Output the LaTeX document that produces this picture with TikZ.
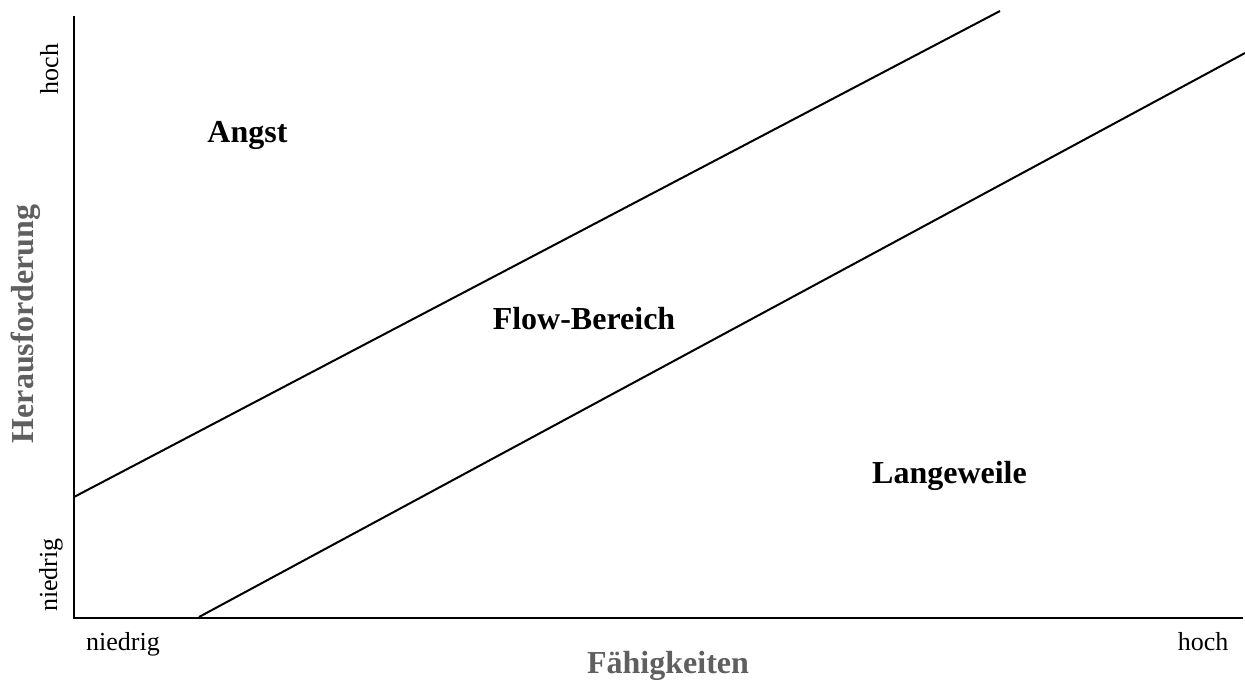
\documentclass[tikz,border=0pt]{standalone}
\usepackage{fontspec}
\setmainfont{Liberation Serif}
\definecolor{axlab}{RGB}{95,95,95}
\begin{document}
\begin{tikzpicture}[x=0.5pt,y=-0.5pt,
  ln/.style={line width=1pt,black},
  small/.style={inner sep=0pt,anchor=base,font=\fontsize{13}{15}\selectfont},
  region/.style={inner sep=0pt,anchor=base,font=\fontsize{16}{19}\selectfont\bfseries},
  axtitle/.style={inner sep=0pt,anchor=base,text=axlab,font=\fontsize{16}{19}\selectfont\bfseries}]
\useasboundingbox (0,0) rectangle (1245,679);
% axes
\coordinate (o) at (74,618);
\coordinate (ytop) at (74,16);
\coordinate (xend) at (1243,618);
\draw[ln] (ytop) -- (o) -- (xend);
% boundary lines
\coordinate (a1) at (74,497);
\coordinate (a2) at (1000,11);
\coordinate (b1) at (199,617);
\coordinate (b2) at (1245,53);
\draw[ln] (a1) -- (a2);
\draw[ln] (b1) -- (b2);
% region labels
\node[region] (angst) at (247.5,143) {Angst};
\node[region] (flow) at (584,329) {Flow-Bereich};
\node[region] (lw) at (949.5,483) {Langeweile};
% axis tick labels
\node[small] (xlow) at (123,650) {niedrig};
\node[small] (xhigh) at (1203,650) {hoch};
\node[small,rotate=90] (ylow) at (57,575) {niedrig};
\node[small,rotate=90] (yhigh) at (58,69) {hoch};
% axis titles
\node[axtitle] (xt) at (668,673) {Fähigkeiten};
\node[axtitle,rotate=90] (yt) at (33,324) {Herausforderung};
\end{tikzpicture}
\end{document}
